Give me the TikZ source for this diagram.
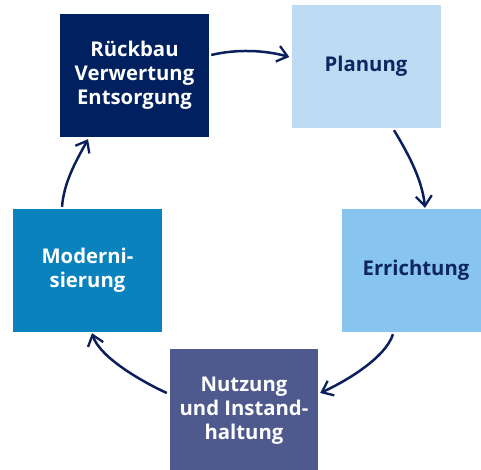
\documentclass[tikz,border=0pt]{standalone}
\usepackage{fontspec}
\setmainfont{Open Sans}
\usetikzlibrary{arrows.meta}
\definecolor{cNavy}{HTML}{012060}
\definecolor{cPlan}{HTML}{BDDCF4}
\definecolor{cErr}{HTML}{87C4EE}
\definecolor{cMod}{HTML}{0A82BE}
\definecolor{cNutz}{HTML}{4E598E}
\definecolor{cText}{HTML}{0D2560}
\definecolor{cArrow}{HTML}{0A1F5C}
\tikzset{
  phase/.style={minimum width=149pt, minimum height=123pt, inner sep=0pt, align=center,
    font=\fontsize{20.3}{24}\selectfont\bfseries},
  darkphase/.style={phase, text=white},
  lightphase/.style={phase, text=cText},
  cyc/.style={draw=cArrow, line width=2.5pt, -{Straight Barb[length=10pt,width=16pt,line width=2.3pt]}}
}
\begin{document}
\begin{tikzpicture}[x=1pt,y=-1pt]
\useasboundingbox (0,0) rectangle (481,470);
\node[darkphase, fill=cNavy] (R) at (134.5,75.5) {Rückbau\\Verwertung\\Entsorgung};
\node[lightphase, fill=cPlan] (P) at (366,66.5) {Planung};
\node[lightphase, fill=cErr, minimum width=148pt] (E) at (416,270.5) {Errichtung};
\node[darkphase, fill=cNutz, minimum width=148pt] (N) at (244,410.5) {Nutzung\\und Instand-\\haltung};
\node[darkphase, fill=cMod] (M) at (87.5,270.5) {Moderni-\\sierung};

\draw[cyc] ([xshift=2pt,yshift=20.5pt]R.east) .. controls +(25,-6) and +(-25,-7) .. ([xshift=-2pt,yshift=9.5pt]P.west);
\draw[cyc] ([xshift=28pt,yshift=-2pt]P.south) .. controls +(12,20) and +(-3,-30) .. ([xshift=9pt,yshift=1pt]E.north);
\draw[cyc] ([xshift=-23pt,yshift=-2pt]E.south) .. controls +(-8,25) and +(22,-10) .. ([xshift=2pt,yshift=17.5pt]N.east);
\draw[cyc] ([xshift=-3pt,yshift=17.5pt]N.west) .. controls +(-22,-10) and +(8,25) .. ([xshift=4.5pt,yshift=-1pt]M.south);
\draw[cyc] ([xshift=-25.5pt,yshift=2pt]M.north) .. controls +(2,-25) and +(-12,22) .. ([xshift=-46.5pt,yshift=-2pt]R.south);
\end{tikzpicture}
\end{document}
